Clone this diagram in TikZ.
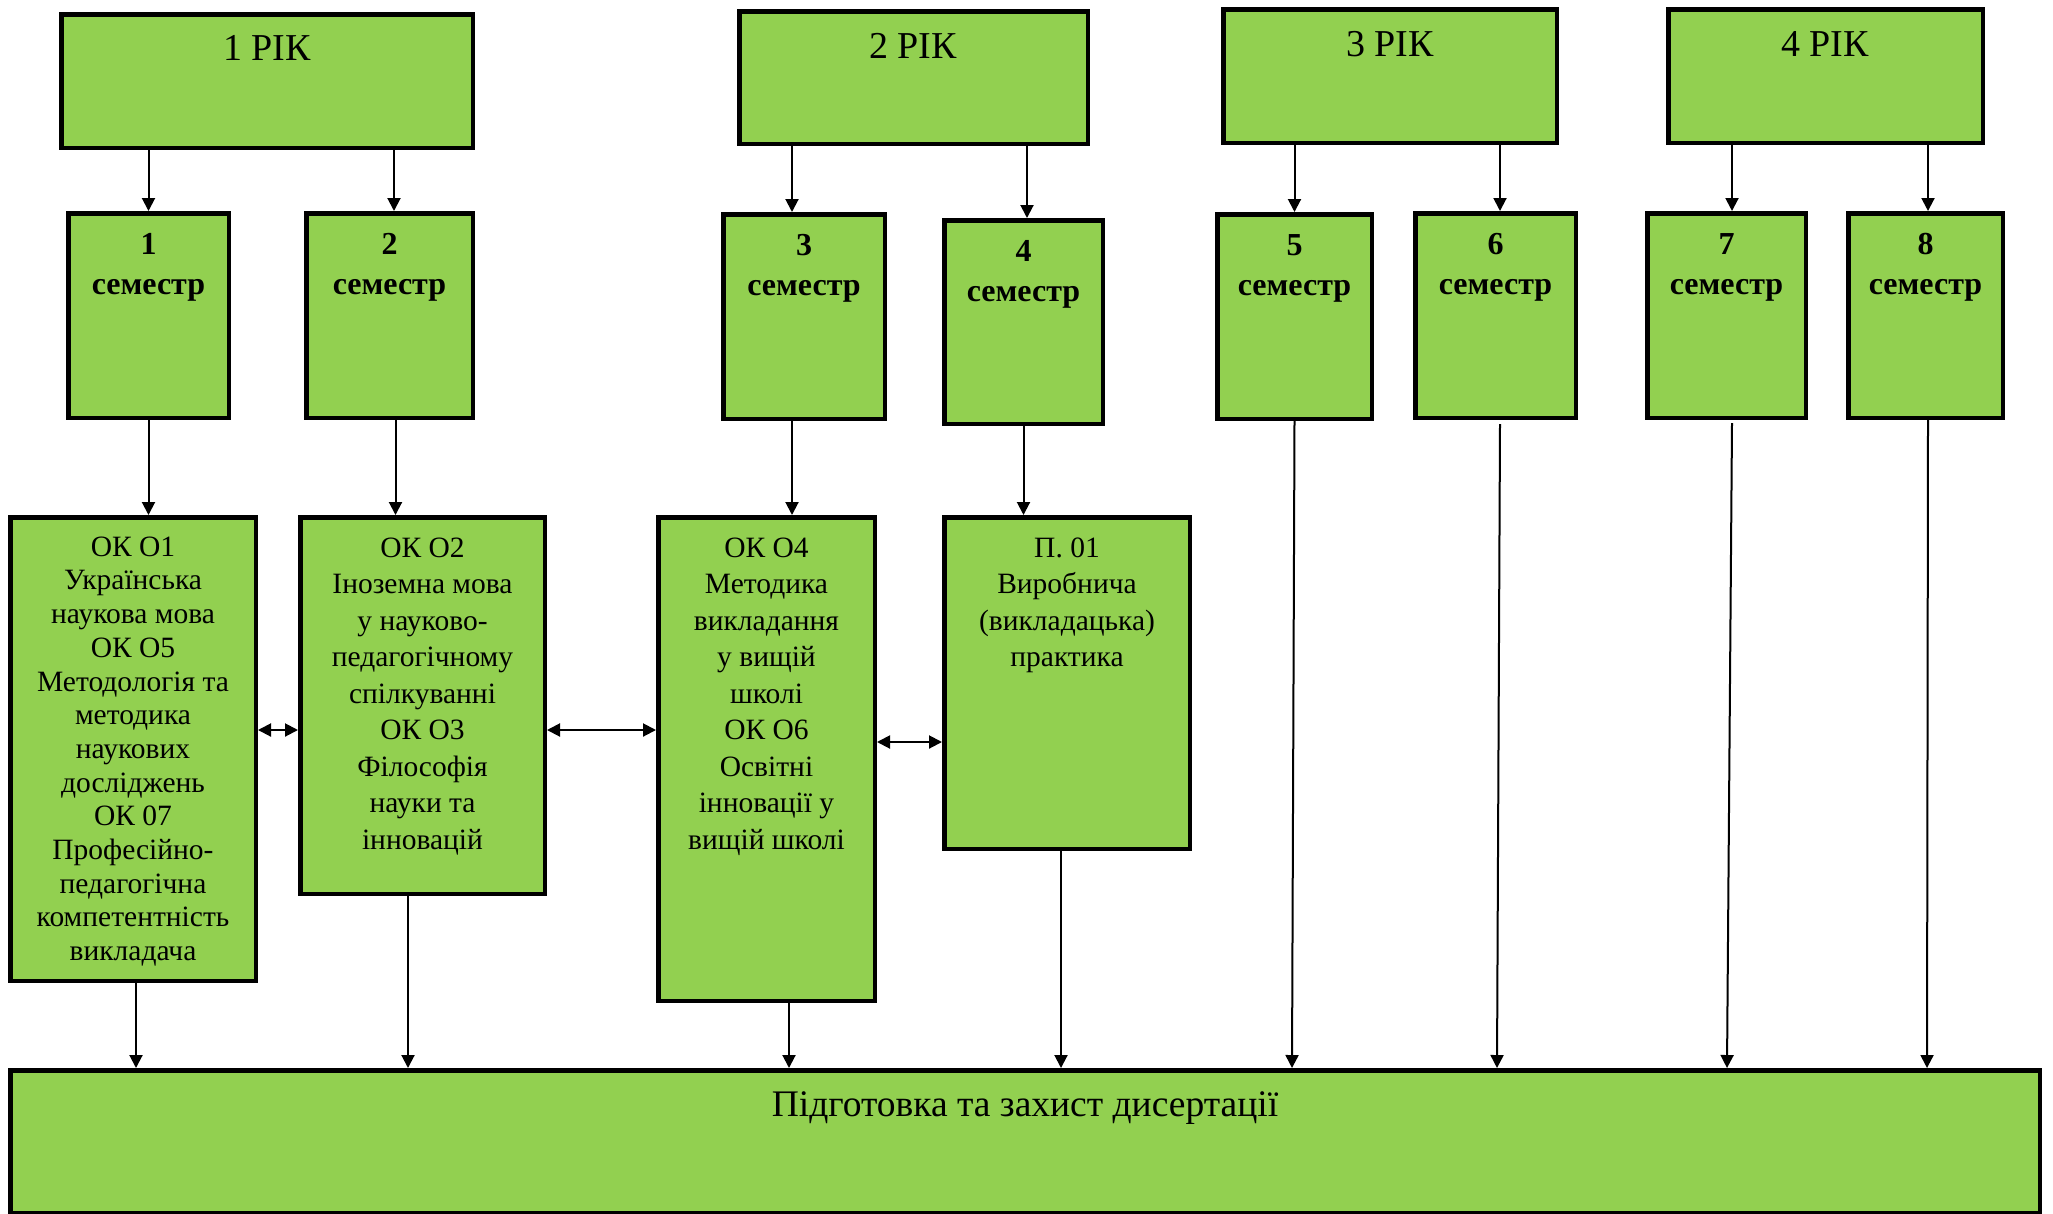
\documentclass[tikz,border=0pt]{standalone}
\usepackage{fontspec}
\setmainfont{Liberation Serif}
\usetikzlibrary{arrows.meta,calc}
\definecolor{boxgreen}{RGB}{146,208,80}
\newcommand\mkbox[5]{\node[box,minimum width={#4-#2-4.5},minimum height={#5-#3-4.5}] (#1) at ({(#2+#4)/2},{(#3+#5)/2}) {};}
\begin{document}
\begin{tikzpicture}[x=1pt,y=-1pt,
  box/.style={draw=black,line width=4.5pt,fill=boxgreen,inner sep=0pt,rectangle},
  arr/.style={-{Triangle[length=13pt,width=13pt]},line width=2pt},
  darr/.style={{Triangle[length=13pt,width=13pt]}-{Triangle[length=13pt,width=13pt]},line width=2pt},
  yt/.style={inner sep=0pt,font=\fontsize{38}{42}\selectfont},
  st/.style={inner sep=0pt,align=center,font=\fontsize{32}{40}\selectfont\bfseries},
  okta/.style={inner sep=0pt,align=center,font=\fontsize{29.5}{33.7}\selectfont},
  oktb/.style={inner sep=0pt,align=center,font=\fontsize{29.5}{36.5}\selectfont},
  dt/.style={inner sep=0pt,font=\fontsize{37.5}{42}\selectfont}]
\useasboundingbox (0,0) rectangle (2053,1213);
% year boxes
\mkbox{y1}{59}{12}{475}{150}
\mkbox{y2}{737}{9}{1090}{146}
\mkbox{y3}{1221}{7}{1559}{145}
\mkbox{y4}{1666}{7}{1985}{145}
% semester boxes
\mkbox{s1}{66}{211}{231}{420}
\mkbox{s2}{304}{211}{475}{420}
\mkbox{s3}{721}{212}{887}{421}
\mkbox{s4}{942}{218}{1105}{426}
\mkbox{s5}{1215}{212}{1374}{421}
\mkbox{s6}{1413}{211}{1578}{420}
\mkbox{s7}{1645}{211}{1808}{420}
\mkbox{s8}{1846}{211}{2005}{420}
% course boxes
\mkbox{ok1}{8}{515}{258}{983}
\mkbox{ok2}{298}{515}{547}{896}
\mkbox{ok4}{656}{515}{877}{1003}
\mkbox{p1}{942}{515}{1192}{851}
% dissertation box
\mkbox{diss}{8}{1068}{2042}{1215}
% texts
\node[yt,anchor=base] (y1t) at (267,60) {1 РІК};
\node[yt,anchor=base] (y2t) at (913,58) {2 РІК};
\node[yt,anchor=base] (y3t) at (1390,56) {3 РІК};
\node[yt,anchor=base] (y4t) at (1825,56) {4 РІК};
\node[st,anchor=north] (s1t) at (148.5,231) {\rule{0pt}{23pt}1\\семестр};
\node[st,anchor=north] (s2t) at (389.5,231) {\rule{0pt}{23pt}2\\семестр};
\node[st,anchor=north] (s3t) at (804,232) {\rule{0pt}{23pt}3\\семестр};
\node[st,anchor=north] (s4t) at (1023.5,238) {\rule{0pt}{23pt}4\\семестр};
\node[st,anchor=north] (s5t) at (1294.5,232) {\rule{0pt}{23pt}5\\семестр};
\node[st,anchor=north] (s6t) at (1495.5,231) {\rule{0pt}{23pt}6\\семестр};
\node[st,anchor=north] (s7t) at (1726.5,231) {\rule{0pt}{23pt}7\\семестр};
\node[st,anchor=north] (s8t) at (1925.5,231) {\rule{0pt}{23pt}8\\семестр};
\node[okta,anchor=north] (ok1t) at (133,535) {\rule{0pt}{21pt}ОК О1\\Українська\\наукова мова\\ОК О5\\Методологія та\\методика\\наукових\\досліджень\\ОК 07\\Професійно-\\педагогічна\\компетентність\\викладача};
\node[oktb,anchor=north] (ok2t) at (422.5,536) {\rule{0pt}{21pt}ОК О2\\Іноземна мова\\у науково-\\педагогічному\\спілкуванні\\ОК О3\\Філософія\\науки та\\інновацій};
\node[oktb,anchor=north] (ok4t) at (766.5,536) {\rule{0pt}{21pt}ОК О4\\Методика\\викладання\\у вищій\\школі\\ОК О6\\Освітні\\інновації у\\вищій школі};
\node[oktb,anchor=north] (p1t) at (1067,536) {\rule{0pt}{21pt}П. 01\\Виробнича\\(викладацька)\\практика};
\node[dt,anchor=base] (dtt) at (1025,1116) {Підготовка та захист дисертації};
% helper coordinates
\coordinate (a2) at ([xshift=4.5pt]s2.north);
\coordinate (a3) at ([xshift=-12pt]s3.north);
\coordinate (a4) at ([xshift=3.5pt]s4.north);
\coordinate (a6) at ([xshift=4.5pt]s6.north);
\coordinate (a7) at ([xshift=5.5pt]s7.north);
\coordinate (a8) at ([xshift=2.5pt]s8.north);
% year -> semester
\draw[arr] (y1.south -| s1.north) -- (s1.north);
\draw[arr] (y1.south -| a2) -- (a2);
\draw[arr] (y2.south -| a3) -- (a3);
\draw[arr] (y2.south -| a4) -- (a4);
\draw[arr] (y3.south -| s5.north) -- (s5.north);
\draw[arr] (y3.south -| a6) -- (a6);
\draw[arr] (y4.south -| a7) -- (a7);
\draw[arr] (y4.south -| a8) -- (a8);
% semester -> courses
\coordinate (b2) at ([xshift=6pt]s2.south);
\coordinate (b3) at ([xshift=-12pt]s3.south);
\draw[arr] (s1.south) -- (s1.south |- ok1.north);
\draw[arr] (b2) -- (b2 |- ok2.north);
\draw[arr] (b3) -- (b3 |- ok4.north);
\draw[arr] (s4.south) -- (s4.south |- p1.north);
% courses -> dissertation
\coordinate (c1) at ([xshift=3pt]ok1.south);
\coordinate (c2) at ([xshift=-14.5pt]ok2.south);
\coordinate (c4) at ([xshift=22.5pt]ok4.south);
\coordinate (c5) at ([xshift=-6pt]p1.south);
\draw[arr] (c1) -- (c1 |- diss.north);
\draw[arr] (c2) -- (c2 |- diss.north);
\draw[arr] (c4) -- (c4 |- diss.north);
\draw[arr] (c5) -- (c5 |- diss.north);
% semesters 5-8 -> dissertation
\coordinate (e5) at (1292,0);
\coordinate (e6) at (1497,0);
\coordinate (e7) at (1727,0);
\coordinate (e8) at (1927,0);
\coordinate (d6) at ([xshift=4.5pt,yshift=-4pt]s6.south);
\coordinate (d7) at ([xshift=5.5pt,yshift=-3pt]s7.south);
\coordinate (d8) at ([xshift=2.5pt]s8.south);
\draw[arr] (s5.south) -- (e5 |- diss.north);
\draw[arr] (d6) -- (e6 |- diss.north);
\draw[arr] (d7) -- (e7 |- diss.north);
\draw[arr] (d8) -- (e8 |- diss.north);
% horizontal links
\coordinate (h1) at (0,730);
\coordinate (h2) at (0,742);
\draw[darr] (ok1.east |- h1) -- (ok2.west |- h1);
\draw[darr] (ok2.east |- h1) -- (ok4.west |- h1);
\draw[darr] (ok4.east |- h2) -- (p1.west |- h2);
\end{tikzpicture}
\end{document}
